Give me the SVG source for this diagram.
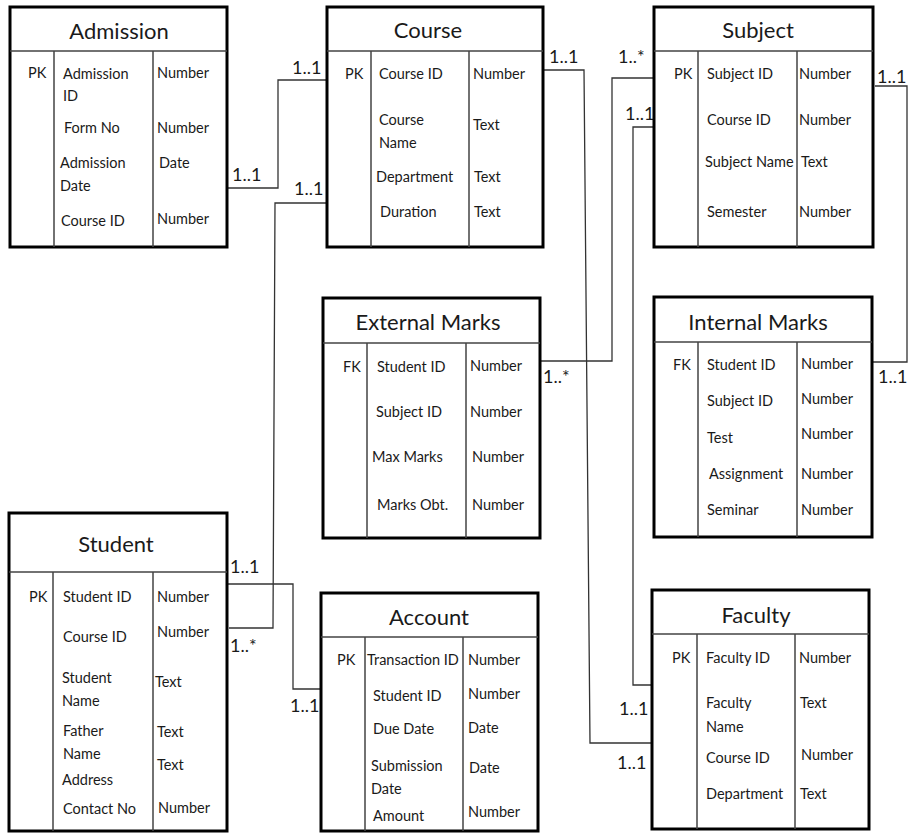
<svg xmlns="http://www.w3.org/2000/svg" width="909" height="833" viewBox="0 0 909 833">
<style>
.box{fill:#fff;stroke:#000;stroke-width:3}
.dv{stroke:#444;stroke-width:1.5;fill:none}
text{font-family:Lato,"Liberation Sans",sans-serif;font-size:14.5px;fill:#1a1a1a}
.h{font-size:22px;text-anchor:middle}
.lbl{font-size:18px}
.conn{fill:none;stroke:#333;stroke-width:1.3}
</style>
<rect width="909" height="833" fill="#fff"/>
<g id="connectors">
<polyline class="conn" points="227,188 278,188 278,80 327,80"/>
<polyline class="conn" points="229,628 273,628 275,203 327,203"/>
<polyline class="conn" points="222,584 293,584 293,689 321,689"/>
<polyline class="conn" points="544,70 584,70 590,743 652,743"/>
<polyline class="conn" points="654,78 612,78 612,361 540,361"/>
<polyline class="conn" points="654,127 633,127 633,685 652,685"/>
<polyline class="conn" points="875,86 907,86 907,362 872,362"/>
<text class="lbl" x="232" y="181">1..1</text>
<text class="lbl" x="292" y="74">1..1</text>
<text class="lbl" x="294" y="195">1..1</text>
<text class="lbl" x="230" y="573">1..1</text>
<text class="lbl" x="230" y="652">1..*</text>
<text class="lbl" x="290" y="712">1..1</text>
<text class="lbl" x="549" y="63">1..1</text>
<text class="lbl" x="618" y="63">1..*</text>
<text class="lbl" x="625" y="120">1..1</text>
<text class="lbl" x="877" y="83">1..1</text>
<text class="lbl" x="543" y="383">1..*</text>
<text class="lbl" x="878" y="383">1..1</text>
<text class="lbl" x="619" y="715">1..1</text>
<text class="lbl" x="617" y="769">1..1</text>
</g>
<g id="admission">
<rect class="box" x="10" y="7" width="217" height="240"/>
<path class="dv" d="M10,51H227M54,51V247M153,51V247"/>
<text class="h" x="119" y="39">Admission</text>
<text x="28" y="78">PK</text>
<text x="63" y="79">Admission</text><text x="63" y="101">ID</text>
<text x="64" y="133">Form No</text>
<text x="60" y="168">Admission</text><text x="60" y="191">Date</text>
<text x="61" y="226">Course ID</text>
<text x="157" y="78">Number</text>
<text x="157" y="133">Number</text>
<text x="159" y="168">Date</text>
<text x="157" y="224">Number</text>
</g>
<g id="course">
<rect class="box" x="327" y="7" width="216" height="240"/>
<path class="dv" d="M327,51H543M371,51V247M469,51V247"/>
<text class="h" x="428" y="38">Course</text>
<text x="345" y="79">PK</text>
<text x="379" y="79">Course ID</text>
<text x="379" y="125">Course</text><text x="379" y="148">Name</text>
<text x="376" y="182">Department</text>
<text x="380" y="217">Duration</text>
<text x="473" y="79">Number</text>
<text x="473" y="130">Text</text>
<text x="474" y="182">Text</text>
<text x="474" y="217">Text</text>
</g>
<g id="subject">
<rect class="box" x="654" y="7" width="219" height="240"/>
<path class="dv" d="M654,51H873M698,51V247M797,51V247"/>
<text class="h" x="758" y="38">Subject</text>
<text x="674" y="79">PK</text>
<text x="707" y="79">Subject ID</text>
<text x="707" y="125">Course ID</text>
<text x="705" y="167">Subject Name</text>
<text x="707" y="217">Semester</text>
<text x="799" y="79">Number</text>
<text x="799" y="125">Number</text>
<text x="801" y="167">Text</text>
<text x="799" y="217">Number</text>
</g>
<g id="external-marks">
<rect class="box" x="323" y="298" width="217" height="240"/>
<path class="dv" d="M323,343H540M367,343V538M466,343V538"/>
<text class="h" x="428" y="330">External Marks</text>
<text x="343" y="372">FK</text>
<text x="377" y="372">Student ID</text>
<text x="376" y="417">Subject ID</text>
<text x="372" y="462">Max Marks</text>
<text x="377" y="510">Marks Obt.</text>
<text x="470" y="371">Number</text>
<text x="470" y="417">Number</text>
<text x="472" y="462">Number</text>
<text x="472" y="510">Number</text>
</g>
<g id="internal-marks">
<rect class="box" x="654" y="297" width="218" height="240"/>
<path class="dv" d="M654,342H872M698,342V537M797,342V537"/>
<text class="h" x="758" y="330">Internal Marks</text>
<text x="673" y="370">FK</text>
<text x="707" y="370">Student ID</text>
<text x="707" y="406">Subject ID</text>
<text x="707" y="443">Test</text>
<text x="709" y="479">Assignment</text>
<text x="707" y="515">Seminar</text>
<text x="801" y="369">Number</text>
<text x="801" y="404">Number</text>
<text x="801" y="439">Number</text>
<text x="801" y="479">Number</text>
<text x="801" y="515">Number</text>
</g>
<g id="student">
<rect class="box" x="9" y="513" width="218" height="318"/>
<path class="dv" d="M9,572H227M53,572V831M153,572V831"/>
<text class="h" x="116" y="552">Student</text>
<text x="29" y="602">PK</text>
<text x="63" y="602">Student ID</text>
<text x="63" y="642">Course ID</text>
<text x="62" y="683">Student</text><text x="62" y="706">Name</text>
<text x="63" y="736">Father</text><text x="63" y="759">Name</text>
<text x="62" y="785">Address</text>
<text x="63" y="814">Contact No</text>
<text x="157" y="602">Number</text>
<text x="157" y="637">Number</text>
<text x="155" y="687">Text</text>
<text x="157" y="737">Text</text>
<text x="157" y="770">Text</text>
<text x="158" y="813">Number</text>
</g>
<g id="account">
<rect class="box" x="321" y="593" width="217" height="238"/>
<path class="dv" d="M321,637H538M365,637V831M463,637V831"/>
<text class="h" x="429" y="625">Account</text>
<text x="337" y="665">PK</text>
<text x="367" y="665">Transaction ID</text>
<text x="373" y="701">Student ID</text>
<text x="373" y="734">Due Date</text>
<text x="371" y="771">Submission</text><text x="371" y="794">Date</text>
<text x="373" y="821">Amount</text>
<text x="468" y="665">Number</text>
<text x="468" y="699">Number</text>
<text x="468" y="733">Date</text>
<text x="469" y="773">Date</text>
<text x="468" y="817">Number</text>
</g>
<g id="faculty">
<rect class="box" x="652" y="590" width="217" height="239"/>
<path class="dv" d="M652,634H869M697,634V829M795,634V829"/>
<text class="h" x="756" y="623">Faculty</text>
<text x="672" y="663">PK</text>
<text x="706" y="663">Faculty ID</text>
<text x="706" y="708">Faculty</text><text x="706" y="732">Name</text>
<text x="706" y="763">Course ID</text>
<text x="706" y="799">Department</text>
<text x="799" y="663">Number</text>
<text x="800" y="708">Text</text>
<text x="801" y="760">Number</text>
<text x="800" y="799">Text</text>
</g>
</svg>
